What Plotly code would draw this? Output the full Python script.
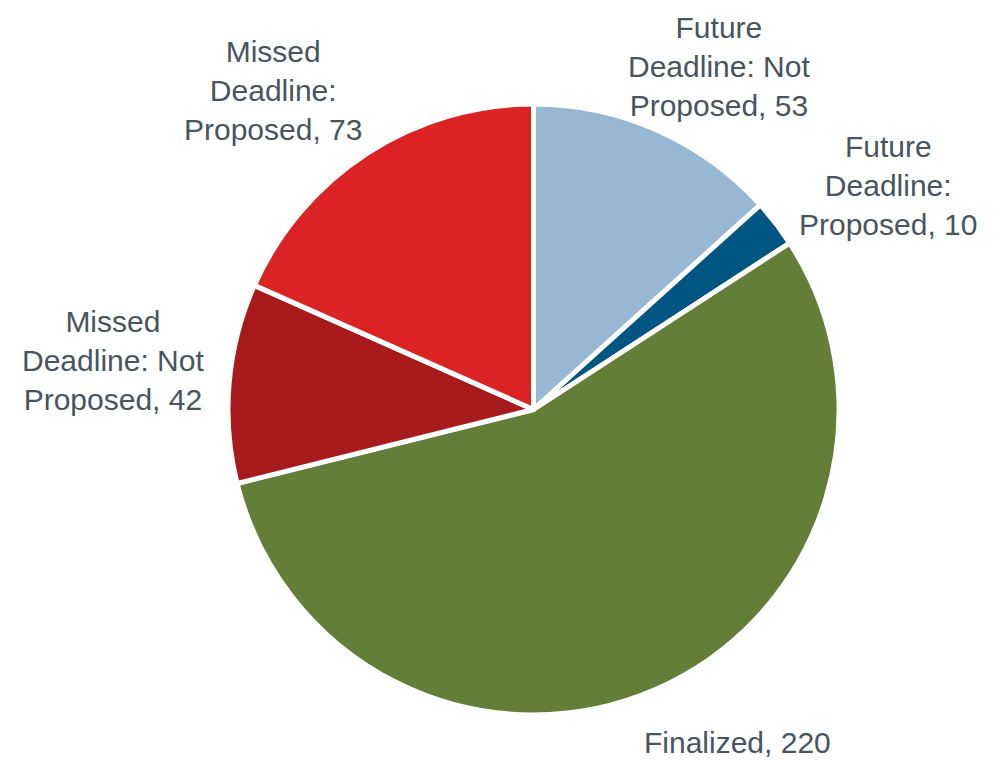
import plotly.graph_objects as go

# slices, clockwise from 12 o'clock
labels = ["Future<br>Deadline: Not<br>Proposed", "Future<br>Deadline:<br>Proposed", "Finalized",
          "Missed<br>Deadline: Not<br>Proposed", "Missed<br>Deadline:<br>Proposed"]
values = [53, 10, 220, 42, 73]
colors = ["#97b7d3", "#005581", "#627e37", "#a7191a", "#dc2323"]

W, H = 1005, 760
OFF = 8  # page body margin shifts the figure
# label centres in page pixels (x, y from top)
label_pos = [(719, 66), (888, 186), (737, 742), (113, 360), (273, 90)]

fig = go.Figure(go.Pie(
    labels=labels,
    values=values,
    sort=False,
    direction="clockwise",
    rotation=0,
    marker=dict(colors=colors, line=dict(color="white", width=5)),
    textinfo="none",
    showlegend=False,
    hoverinfo="label+value",
    domain=dict(x=[(228 - OFF) / W, (839 - OFF) / W],
                y=[(H - 715 + OFF) / H, (H - 104 + OFF) / H]),
))

for lab, val, (px_, py_) in zip(labels, values, label_pos):
    fig.add_annotation(
        x=(px_ - OFF) / W, y=min(1 - (py_ - OFF) / H, 1), xref="paper", yref="paper",
        text=f"{lab}, {val}", showarrow=False,
        xanchor="center", yanchor="middle", align="center", borderpad=0,
        font=dict(family="Liberation Sans", size=30, color="#4a545c"),
    )

fig.update_layout(
    width=W, height=H,
    paper_bgcolor="white",
    margin=dict(l=0, r=0, t=0, b=0),
)

fig.write_html("out.html")
